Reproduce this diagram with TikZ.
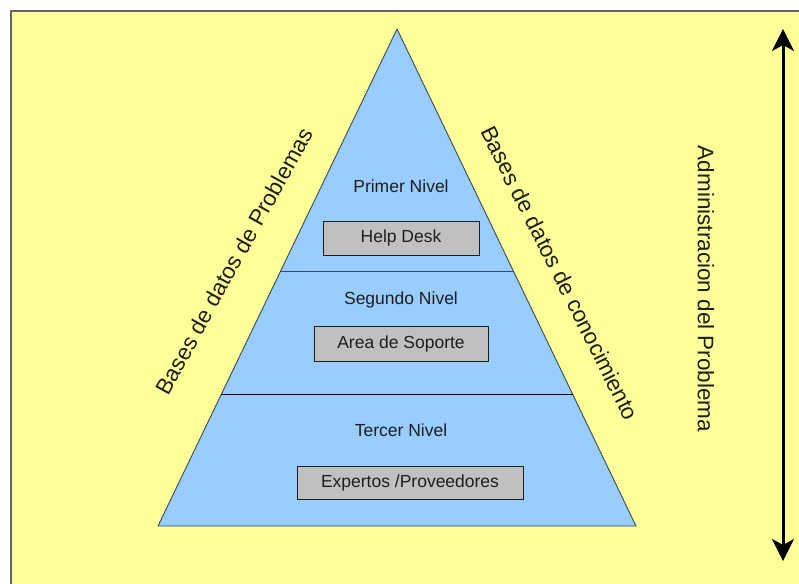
\documentclass[tikz,border=0pt]{standalone}
\usepackage{fontspec}
\setmainfont{Liberation Sans}
\usetikzlibrary{calc,arrows.meta}
\definecolor{panel}{HTML}{FFFF99}
\definecolor{panelline}{HTML}{646464}
\definecolor{tier}{HTML}{99CCFF}
\definecolor{tierline}{HTML}{3A4A5A}
\definecolor{boxfill}{HTML}{C0C0C0}
\definecolor{ink}{HTML}{1E1E1E}
\tikzset{
  small/.style={font=\fontsize{17.5}{20}\selectfont, text=ink},
  big/.style={font=\fontsize{22.5}{26}\selectfont, text=ink},
  levelbox/.style={small, draw=ink, line width=0.9pt, fill=boxfill, inner sep=0pt, minimum height=34pt},
  divider/.style={draw=tierline, line width=1pt},
}
\begin{document}
\begin{tikzpicture}[x=1pt,y=-1pt]
\useasboundingbox (0,0) rectangle (799,583);
% background panel
\fill[white] (0,0) rectangle (799,583);
\fill[panel] (11,11) rectangle (805,590);
\draw[panelline, line width=1.4pt] (11,590) -- (11,11) -- (805,11);

% pyramid
\coordinate (apex) at (397,29);
\coordinate (bl) at (158,526);
\coordinate (br) at (636,526);
\filldraw[fill=tier, draw=tierline, line width=0.9pt, line join=round] (apex) -- (bl) -- (br) -- cycle;
\coordinate (d1l) at ($(apex)!0.4889!(bl)$);
\coordinate (d1r) at ($(apex)!0.4889!(br)$);
\coordinate (d2l) at ($(apex)!0.7364!(bl)$);
\coordinate (d2r) at ($(apex)!0.7364!(br)$);
\draw[divider] (d1l) -- (d1r);
\draw[divider, draw=black] (d2l) -- (d2r);

% tiers
\node[small] (n1) at (401,186) {Primer Nivel};
\node[levelbox, minimum width=156pt] (b1) at (401,238) {Help Desk};
\node[small] (n2) at (401,300) {Segundo Nivel};
\node[levelbox, minimum width=174pt, minimum height=35pt] (b2) at (401,343.5) {Area de Soporte};
\node[small] (n3) at (401,430) {Tercer Nivel};
\node[levelbox, minimum width=226pt, minimum height=33pt] (b3) at (410,482.5) {Expertos /Proveedores};

% side labels
\node[big, rotate=61] (lp) at (234,261) {Bases de datos de Problemas};
\node[big, rotate=-63.4] (lc) at (560,273) {Bases de datos de conocimiento};
\node[big, rotate=-90] (la) at (706,289) {Administracion del Problema};

% scale arrow
\coordinate (atop) at (783,29);
\coordinate (abot) at (783,561);
\draw[line width=3pt, {Stealth[length=22pt,width=22pt,inset=6pt]}-{Stealth[length=22pt,width=22pt,inset=6pt]}] (atop) -- (abot);
\end{tikzpicture}
\end{document}
